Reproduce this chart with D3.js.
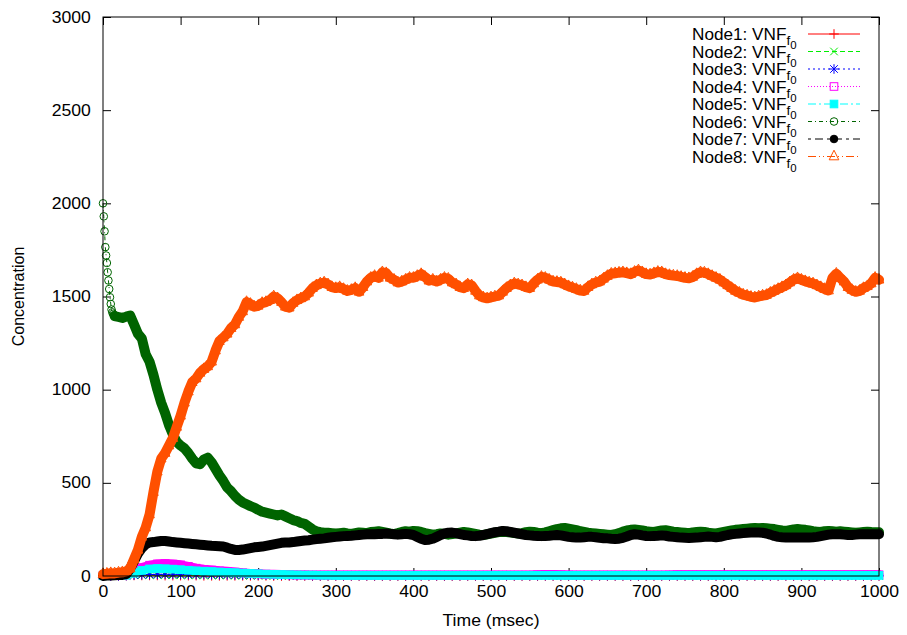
<!DOCTYPE html>
<html>
<head>
<meta charset="utf-8">
<script src="https://cdn.jsdelivr.net/npm/d3@7/dist/d3.min.js"></script>
<style>
  body { margin: 0; background: #fff; }
  text { font-family: "Liberation Sans", Arial, sans-serif; fill: #000; }
</style>
</head>
<body>
<svg id="chart" width="907" height="635"></svg>
<script>
// tick labels
var xTicks = [0, 100, 200, 300, 400, 500, 600, 700, 800, 900, 1000];
var yTicks = [0, 500, 1000, 1500, 2000, 2500, 3000];

// sample times (msec)
var tMain = d3.range(0, 1001, 5);     // nodes 7, 8
var tSmall = d3.range(0, 1001, 10);   // nodes 1-5
var tNode6 = d3.range(0, 15).concat(d3.range(15, 1001, 5));

var node1 = [0,1,1,2,3,3,3,3,2,2, 2,2,2,1,1,1,1,1,1,1,
  1,1,0,0,0,0,0,0,0,0, 0,0,0,0,0,0,0,0,0,0, 0,0,0,0,0,0,0,0,0,0,
  0,0,0,0,0,0,0,0,0,0, 0,0,0,0,0,0,0,0,0,0, 0,0,0,0,0,0,0,0,0,0,
  0,0,0,0,0,0,0,0,0,0, 0,0,0,0,0,0,0,0,0,0, 0];
var node2 = [0,1,2,3,4,5,5,5,5,4, 4,4,4,3,3,3,3,2,2,2,
  2,2,1,1,1,1,1,0,0,0, 0,0,0,0,0,0,0,0,0,0, 0,0,0,0,0,0,0,0,0,0,
  0,0,0,0,0,0,0,0,0,0, 0,0,0,0,0,0,0,0,0,0, 0,0,0,0,0,0,0,0,0,0,
  0,0,0,0,0,0,0,0,0,0, 0,0,0,0,0,0,0,0,0,0, 0];
var node3 = [0,0,1,2,5,7,8,9,9,9, 9,8,8,8,7,7,7,6,6,6,
  5,5,4,4,3,3,3,2,2,2, 2,2,2,2,2,2,2,2,2,2, 2,2,2,2,2,2,2,2,2,2,
  2,2,2,2,2,2,2,2,2,2, 2,2,2,2,2,2,2,2,2,2, 2,2,2,2,2,2,2,2,2,2,
  2,2,2,2,2,2,2,2,2,2, 2,2,2,2,2,2,2,2,2,2, 2];
var node4 = [2,3,4,6,20,45,58,65,67,64, 60,52,42,36,32,28,25,21,17,14,
  12,10,9,8,7,6,6,5,5,5, 5,5,5,5,5,5,5,5,5,5, 5,5,5,5,5,5,5,5,5,5,
  5,5,5,5,5,5,7,8,8,7, 6,5,5,5,5,5,5,5,5,5, 5,5,5,6,7,7,7,7,7,7,
  7,7,7,7,7,7,7,7,7,7, 7,7,7,7,7,7,7,7,7,7, 7];
var node5 = [1,2,3,4,15,30,38,40,39,37, 34,31,28,26,24,22,20,18,16,14,
  12,10,9,8,7,6,5,5,4,4, 3,3,3,3,3,3,3,3,3,3, 3,3,3,3,3,3,3,3,3,3,
  3,3,3,3,3,3,3,3,3,3, 3,3,3,3,3,3,3,3,3,3, 3,3,3,3,3,3,3,3,3,3,
  3,3,3,3,3,3,3,3,3,3, 3,3,3,3,3,3,3,3,3,3, 3];
var node6 = [2000,1930,1850,1765,1720,1680,1630,1586,1540,1496,1460,1430,1415,1407,1400,
  1395,1390,1385,1392,1398,1350,1300,
  1275,1190,1150,1080,1000,930,875,810,760,720,
  700,685,660,630,605,600,625,635,610,575,
  540,510,475,455,430,410,395,385,375,367,
  355,345,340,335,330,325,330,320,310,300,
  295,285,280,265,250,240,235,232,232,230,
  228,230,232,228,226,230,234,232,230,236,
  238,240,236,232,228,225,230,236,240,238,
  242,240,236,230,226,222,224,228,226,222,
  225,228,232,236,234,230,226,222,220,224,
  228,232,236,238,236,234,230,228,230,235,
  238,236,232,230,234,240,246,252,256,258,
  254,250,246,240,236,232,230,228,226,224,
  222,220,224,230,238,244,248,250,247,244,
  240,238,236,240,244,246,242,238,236,234,
  232,230,234,236,238,236,232,230,228,232,
  236,240,244,248,250,252,254,256,258,256,
  258,256,254,252,248,244,242,246,250,252,
  250,248,244,240,238,236,240,242,240,238,
  240,238,236,234,232,234,236,238,236,235,
  235];
var node7 = [0,2,3,4,5,6,10,40,80,120,
  150,170,180,182,185,188,188,185,182,180,
  178,176,174,172,170,168,166,164,162,161,
  160,158,152,145,140,140,142,146,150,154,
  156,158,162,166,170,174,178,180,180,182,
  185,188,190,192,195,198,200,202,205,208,
  210,212,214,215,216,218,220,222,224,224,
  224,225,226,228,226,224,222,224,226,224,
  220,210,200,193,195,200,210,220,228,232,
  233,230,225,220,218,215,214,216,220,225,
  230,235,238,242,240,236,232,228,224,220,
  218,216,215,214,215,216,218,220,218,214,
  210,208,206,206,208,210,210,208,205,203,
  202,200,199,200,205,212,220,224,222,218,
  215,214,215,216,218,216,212,210,208,206,
  205,204,205,206,208,210,212,210,208,210,
  215,220,224,226,228,230,232,233,234,233,
  232,228,222,215,210,208,207,206,206,206,
  206,206,207,208,210,214,218,222,224,224,
  224,222,220,220,222,224,224,224,224,224,
  224];
var node8 = [10,12,15,14,18,20,25,40,90,140,
  210,260,330,450,560,630,660,700,740,800,
  860,930,990,1040,1060,1090,1110,1125,1150,1210,
  1260,1280,1300,1330,1350,1390,1420,1470,1460,1445,
  1450,1465,1470,1480,1500,1490,1470,1445,1440,1465,
  1480,1490,1500,1520,1545,1560,1570,1575,1565,1550,
  1545,1550,1540,1530,1535,1545,1525,1550,1580,1600,
  1610,1600,1630,1625,1600,1590,1575,1580,1590,1600,
  1600,1610,1620,1605,1585,1590,1580,1590,1600,1595,
  1575,1565,1550,1545,1565,1560,1530,1505,1495,1490,
  1495,1500,1505,1525,1545,1560,1570,1565,1560,1550,
  1545,1570,1590,1605,1600,1590,1580,1578,1575,1565,
  1555,1548,1540,1532,1530,1550,1565,1575,1580,1595,
  1610,1622,1625,1628,1630,1625,1620,1632,1640,1630,
  1620,1618,1625,1632,1630,1620,1615,1612,1610,1605,
  1600,1598,1605,1620,1630,1628,1620,1610,1600,1590,
  1575,1560,1545,1530,1520,1510,1505,1498,1495,1500,
  1505,1508,1520,1530,1540,1550,1560,1575,1590,1598,
  1590,1582,1575,1570,1560,1550,1540,1532,1600,1622,
  1600,1580,1550,1535,1525,1530,1545,1555,1570,1600,
  1590];

var names = ["Node1", "Node2", "Node3", "Node4", "Node5", "Node6", "Node7", "Node8"];
var colors = ["#ff0000", "#00ee00", "#0000ff", "#ff00ff", "#00ffff", "#006400", "#000000", "#ff5000"];
var dashes = [null, "5,3", "2,3", "1,2", "8,3,2,3", "4,3,1,3", "3,4,8,4", "8,3,1,3,1,3"];
var markers = ["plus", "cross", "star", "square", "fsquare", "circle", "fcircle", "triangle"];
// the dense samples of the original pile up into a thick band
var bandWidth = [0, 0, 0, 9, 8, 10, 10, 10];
var bandFrom = [0, 0, 0, 30, 30, 15, 0, 0];

var seriesT = [tSmall, tSmall, tSmall, tSmall, tSmall, tNode6, tMain, tMain];
var seriesV = [node1, node2, node3, node4, node5, node6, node7, node8];

var svg = d3.select("#chart");
var pLeft = 103, pRight = 879, pTop = 17, pBottom = 576;
var hStretch = 1.1;

var x = d3.scaleLinear().domain([0, 1000]).range([pLeft, pRight]);
var y = d3.scaleLinear().domain([0, 3000]).range([pBottom, pTop]);

function drawMarker(g, type, color, px, py) {
  var s = 3.8;
  if (type == "plus") {
    g.append("path").attr("d", "M" + (px - s - 1) + "," + py + "h" + (2 * s + 2) + "M" + px + "," + (py - s - 1) + "v" + (2 * s + 2))
      .attr("stroke", color).attr("fill", "none");
  } else if (type == "cross") {
    g.append("path").attr("d", "M" + (px - s) + "," + (py - s) + "l" + 2 * s + "," + 2 * s + "M" + (px - s) + "," + (py + s) + "l" + 2 * s + "," + (-2 * s))
      .attr("stroke", color).attr("fill", "none");
  } else if (type == "star") {
    g.append("path").attr("d", "M" + (px - s) + "," + (py - s) + "l" + 2 * s + "," + 2 * s + "M" + (px - s) + "," + (py + s) + "l" + 2 * s + "," + (-2 * s)
      + "M" + (px - s - 1) + "," + py + "h" + (2 * s + 2) + "M" + px + "," + (py - s - 1) + "v" + (2 * s + 2))
      .attr("stroke", color).attr("fill", "none");
  } else if (type == "square" || type == "fsquare") {
    g.append("rect").attr("x", px - s).attr("y", py - s).attr("width", 2 * s).attr("height", 2 * s)
      .attr("stroke", color).attr("fill", type == "fsquare" ? color : "none");
  } else if (type == "circle" || type == "fcircle") {
    g.append("circle").attr("cx", px).attr("cy", py).attr("r", s)
      .attr("stroke", color).attr("fill", type == "fcircle" ? color : "none");
  } else if (type == "triangle") {
    g.append("path").attr("d", "M" + px + "," + (py - s - 2.5) + "L" + (px + s + 1) + "," + (py + s - 0.5) + "L" + (px - s - 1) + "," + (py + s - 0.5) + "Z")
      .attr("stroke", color).attr("fill", "none");
  }
}

// axes with inward ticks, mirrored on top and right
svg.append("g").attr("transform", "translate(0," + pBottom + ")")
  .call(d3.axisBottom(x).tickValues(xTicks).tickSize(-8).tickPadding(10).tickFormat(d3.format("d")))
  .call(function(g) { g.select(".domain").remove(); });
svg.append("g").attr("transform", "translate(0," + pTop + ")")
  .call(d3.axisTop(x).tickValues(xTicks).tickSize(-8).tickFormat(""))
  .call(function(g) { g.select(".domain").remove(); });
svg.append("g").attr("transform", "translate(" + pLeft + ",0)")
  .call(d3.axisLeft(y).tickValues(yTicks).tickSize(-8).tickPadding(11).tickFormat(d3.format("d")))
  .call(function(g) { g.select(".domain").remove(); });
svg.append("g").attr("transform", "translate(" + pRight + ",0)")
  .call(d3.axisRight(y).tickValues(yTicks).tickSize(-8).tickFormat(""))
  .call(function(g) { g.select(".domain").remove(); });
svg.selectAll(".tick line").attr("stroke", "#000");
svg.selectAll(".tick text").style("font-size", "16px").style("font-family", null)
  .attr("transform", "scale(" + hStretch + ",1)");

svg.append("text").attr("transform", "translate(" + ((pLeft + pRight) / 2) + ",626) scale(" + hStretch + ",1)")
  .attr("text-anchor", "middle").style("font-size", "16px").text("Time (msec)");
svg.append("text").attr("transform", "translate(24," + ((pTop + pBottom) / 2) + ") rotate(-90)")
  .attr("text-anchor", "middle").style("font-size", "16px").text("Concentration");

// series, drawn in order so Node8 ends up on top
var line = d3.line().x(function(d) { return x(d[0]); }).y(function(d) { return y(d[1]); });
for (var i = 0; i < 8; i++) {
  var pts = seriesT[i].map(function(t, k) { return [t, seriesV[i][k]]; });
  var g = svg.append("g").attr("class", "series " + names[i]);
  if (bandWidth[i] > 0) {
    var from = bandFrom[i];
    g.append("path").datum(pts.filter(function(p) { return p[0] >= from; })).attr("d", line)
      .attr("fill", "none").attr("stroke", colors[i]).attr("stroke-width", bandWidth[i])
      .attr("stroke-linejoin", "round").attr("stroke-linecap", "round");
  }
  g.append("path").datum(pts).attr("d", line).attr("fill", "none")
    .attr("stroke", colors[i]).attr("stroke-width", 1)
    .attr("stroke-dasharray", dashes[i]);
  pts.forEach(function(p) { drawMarker(g, markers[i], colors[i], x(p[0]), y(p[1])); });
}

// frame on top
svg.append("rect").attr("x", pLeft).attr("y", pTop).attr("width", pRight - pLeft).attr("height", pBottom - pTop)
  .attr("fill", "none").attr("stroke", "#000");

// legend
var lg = svg.append("g").attr("class", "legend");
for (var j = 0; j < 8; j++) {
  var ry = 34 + j * 17.5;
  var tx = lg.append("text").attr("transform", "translate(692," + (ry + 6) + ") scale(1.04,1)").style("font-size", "16.5px");
  tx.append("tspan").text(names[j] + ": VNF");
  tx.append("tspan").attr("dy", 5).style("font-size", "13px").text("f");
  tx.append("tspan").attr("dy", 4).style("font-size", "11px").text("0");
  lg.append("line").attr("x1", 808).attr("x2", 860).attr("y1", ry).attr("y2", ry)
    .attr("stroke", colors[j]).attr("stroke-dasharray", dashes[j]);
  drawMarker(lg, markers[j], colors[j], 834, ry);
}
</script>
</body>
</html>
